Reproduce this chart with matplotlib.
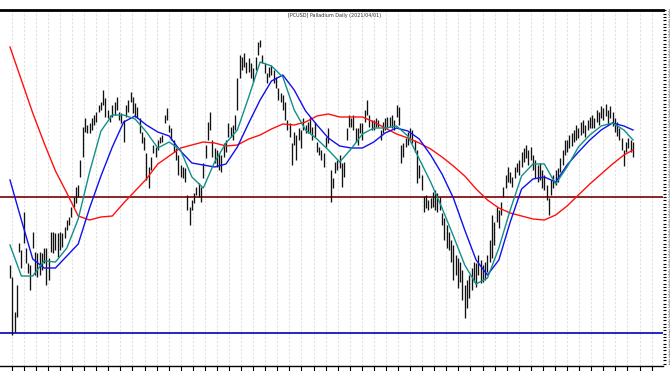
import numpy as np
import pandas as pd
import matplotlib
matplotlib.use("Agg")
import matplotlib.pyplot as plt

# daily bar ranges
highs = [
    2186, 2150, 2045, 2126, 2252, 2231, 2345, 2237, 2192, 2186,
    2285, 2225, 2222, 2225, 2222, 2237, 2237, 2207, 2285, 2285,
    2282, 2282, 2285, 2282, 2300, 2321, 2330, 2360, 2390, 2420,
    2426, 2501, 2600, 2627, 2606, 2612, 2627, 2636, 2645, 2666,
    2675, 2711, 2687, 2651, 2636, 2666, 2675, 2690, 2645, 2642,
    2621, 2666, 2681, 2705, 2690, 2672, 2660, 2627, 2585, 2570,
    2522, 2480, 2510, 2546, 2540, 2561, 2570, 2576, 2636, 2657,
    2606, 2597, 2561, 2537, 2516, 2486, 2480, 2477, 2396, 2360,
    2381, 2402, 2420, 2432, 2420, 2492, 2546, 2615, 2645, 2561,
    2537, 2531, 2522, 2516, 2552, 2561, 2612, 2600, 2606, 2636,
    2747, 2816, 2810, 2822, 2795, 2807, 2792, 2777, 2810, 2855,
    2861, 2816, 2792, 2762, 2780, 2786, 2771, 2750, 2717, 2702,
    2696, 2675, 2621, 2612, 2552, 2585, 2576, 2597, 2591, 2627,
    2606, 2615, 2630, 2600, 2615, 2555, 2540, 2531, 2522, 2570,
    2597, 2471, 2447, 2495, 2501, 2516, 2492, 2495, 2597, 2636,
    2627, 2636, 2597, 2597, 2612, 2612, 2651, 2681, 2636, 2621,
    2621, 2627, 2621, 2591, 2615, 2627, 2630, 2630, 2636, 2621,
    2666, 2660, 2546, 2552, 2567, 2585, 2597, 2591, 2561, 2531,
    2486, 2456, 2393, 2396, 2381, 2387, 2405, 2411, 2402, 2390,
    2342, 2327, 2306, 2285, 2261, 2246, 2216, 2207, 2195, 2171,
    2126, 2141, 2156, 2177, 2195, 2192, 2216, 2201, 2186, 2195,
    2216, 2261, 2336, 2315, 2360, 2351, 2375, 2420, 2456, 2480,
    2465, 2450, 2480, 2492, 2501, 2525, 2537, 2546, 2531, 2540,
    2516, 2501, 2486, 2492, 2471, 2456, 2426, 2387, 2441, 2456,
    2471, 2477, 2507, 2531, 2561, 2561, 2576, 2582, 2591, 2606,
    2597, 2615, 2621, 2606, 2621, 2630, 2636, 2627, 2651, 2645,
    2663, 2657, 2669, 2651, 2663, 2645, 2627, 2615, 2597, 2567,
    2531, 2555, 2567, 2561, 2555,
]
lows = [
    2147, 1976, 1985, 2030, 2225, 2177, 2252, 2192, 2162, 2111,
    2237, 2156, 2150, 2156, 2171, 2192, 2126, 2141, 2225, 2222,
    2231, 2210, 2231, 2240, 2267, 2291, 2306, 2330, 2360, 2372,
    2390, 2450, 2510, 2585, 2582, 2582, 2591, 2606, 2615, 2645,
    2651, 2666, 2630, 2627, 2615, 2630, 2636, 2651, 2621, 2612,
    2555, 2630, 2645, 2675, 2642, 2630, 2627, 2582, 2552, 2531,
    2441, 2417, 2471, 2522, 2510, 2531, 2552, 2555, 2612, 2621,
    2585, 2561, 2525, 2501, 2456, 2450, 2447, 2435, 2351, 2306,
    2351, 2372, 2396, 2390, 2375, 2447, 2507, 2561, 2591, 2510,
    2492, 2480, 2471, 2465, 2510, 2525, 2570, 2570, 2561, 2591,
    2651, 2747, 2771, 2780, 2762, 2765, 2747, 2735, 2771, 2816,
    2840, 2792, 2762, 2732, 2750, 2756, 2732, 2717, 2681, 2675,
    2651, 2621, 2591, 2570, 2486, 2546, 2501, 2561, 2537, 2591,
    2582, 2582, 2582, 2561, 2570, 2525, 2516, 2501, 2480, 2540,
    2552, 2375, 2417, 2462, 2471, 2477, 2420, 2450, 2561, 2600,
    2600, 2591, 2555, 2546, 2582, 2561, 2615, 2636, 2600, 2591,
    2591, 2600, 2600, 2561, 2582, 2591, 2597, 2600, 2597, 2591,
    2630, 2606, 2492, 2510, 2540, 2546, 2567, 2552, 2525, 2432,
    2447, 2411, 2345, 2357, 2351, 2357, 2360, 2351, 2345, 2351,
    2306, 2261, 2237, 2231, 2195, 2141, 2156, 2117, 2135, 2081,
    2027, 2057, 2087, 2111, 2135, 2120, 2156, 2132, 2135, 2141,
    2165, 2195, 2207, 2246, 2315, 2297, 2336, 2390, 2417, 2435,
    2432, 2420, 2447, 2465, 2456, 2480, 2495, 2507, 2486, 2501,
    2471, 2447, 2435, 2441, 2417, 2411, 2381, 2336, 2396, 2417,
    2426, 2435, 2465, 2486, 2516, 2525, 2537, 2543, 2555, 2561,
    2567, 2576, 2582, 2570, 2591, 2597, 2597, 2597, 2615, 2606,
    2627, 2621, 2633, 2606, 2627, 2603, 2585, 2573, 2561, 2531,
    2483, 2525, 2537, 2525, 2510,
]

# moving averages, one value every 5 bars (plus the last bar)
ma_fast = [
    2246, 2153, 2153, 2198, 2195, 2237, 2324, 2465, 2588, 2636,
    2636, 2624, 2585, 2537, 2555, 2531, 2450, 2417, 2495, 2552,
    2591, 2690, 2795, 2783, 2750, 2651, 2591, 2564, 2531, 2495,
    2534, 2579, 2597, 2597, 2603, 2573, 2504, 2435, 2357, 2273,
    2186, 2129, 2147, 2237, 2351, 2453, 2489, 2489, 2429, 2480,
    2540, 2576, 2603, 2612, 2591, 2561,
]
ma_mid = [
    2441, 2321, 2204, 2177, 2177, 2213, 2249, 2357, 2453, 2540,
    2615, 2633, 2606, 2585, 2573, 2528, 2492, 2486, 2480, 2489,
    2540, 2612, 2681, 2738, 2756, 2711, 2648, 2606, 2567, 2543,
    2537, 2537, 2555, 2582, 2597, 2588, 2564, 2516, 2459, 2387,
    2291, 2201, 2156, 2201, 2315, 2414, 2444, 2450, 2435, 2486,
    2525, 2561, 2591, 2612, 2603, 2591,
]
ma_slow = [
    2840, 2741, 2642, 2552, 2468, 2402, 2333, 2321, 2330, 2333,
    2372, 2408, 2444, 2489, 2513, 2537, 2546, 2555, 2552, 2543,
    2546, 2564, 2576, 2594, 2609, 2606, 2615, 2633, 2639, 2630,
    2630, 2630, 2615, 2597, 2579, 2567, 2552, 2534, 2510, 2483,
    2453, 2414, 2381, 2357, 2342, 2333, 2324, 2321, 2336, 2363,
    2396, 2429, 2459, 2489, 2516, 2531,
]

resistance = 2390
support = 1982
title = "[PCUSD] Palladium Daily (2021/04/01)"

n = len(highs)
x = np.arange(n)
ma_x = np.append(np.arange(0, n - 4, 5), n - 1)

fig = plt.figure(figsize=(6.7, 3.71), dpi=100)
ax = fig.add_axes([0.0, 5 / 371, 663 / 670, 356 / 371])

# weekly grid + date labels
week_pos = np.arange(0.75, 285, 5.31)
weeks = pd.date_range("2020-04-06", periods=len(week_pos), freq="W-MON")
week_labels = [d.strftime("%b") if d.day <= 7 else d.strftime("%d") for d in weeks]
for p in week_pos:
    ax.axvline(p, color="#e2e2e2", lw=0.8, ls=(0, (2, 1.5)), zorder=0)

ax.vlines(x, lows, highs, color="#111111", lw=0.95, zorder=3)

ax.plot(ma_x, ma_slow, color="#ff1010", lw=1.0, zorder=4)
ax.plot(ma_x, ma_mid, color="#1010ee", lw=1.0, zorder=4)
ax.plot(ma_x, ma_fast, color="#119088", lw=1.0, zorder=4)

ax.axhline(resistance, color="#7a0000", lw=1.2, zorder=2)
ax.axhline(support, color="#0000bb", lw=1.2, zorder=2)

ax.set_xlim(-10 / 2.2737, (n - 1) + 30 / 2.2737)
ax.set_ylim(1883, 2951)

ax.set_xticks(week_pos)
ax.set_xticklabels(week_labels, fontsize=3, color="#555555", ha="left")
ax.tick_params(axis="x", length=3.5, width=0.8, pad=0.5)

ax.yaxis.tick_right()
ax.set_yticks(np.arange(1890, 2951, 10))
ax.set_yticklabels([str(v) for v in np.arange(1890, 2951, 10)], fontsize=3, color="#555555")
ax.tick_params(axis="y", length=2.5, width=0.8, pad=1)

ax.spines["left"].set_visible(False)
ax.spines["right"].set_visible(False)
ax.spines["top"].set_linewidth(2)
ax.spines["bottom"].set_linewidth(1)

fig.text(0.5, 1 - 15 / 371, title, fontsize=3.5, color="#333333", ha="center", va="center")

fig.savefig("out.png", dpi=100)
